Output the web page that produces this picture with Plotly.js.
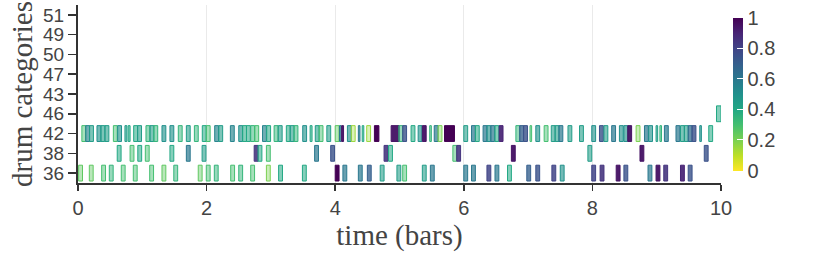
<!DOCTYPE html>
<html>
<head>
<meta charset="utf-8">
<script src="https://cdn.plot.ly/plotly-3.0.1.min.js"></script>
<style>html,body{margin:0;padding:0;background:#fff;}#chart{width:830px;height:261px;}</style>
</head>
<body>
<div id="chart"></div>
<script>
// drum categories (bottom to top)
const categories = ['36','38','42','46','43','47','50','49','51'];

// pitch 42 (closed hi-hat): start (bars), velocity, duration (bars)
const hh_t = [0.06,0.12,0.18,0.295,0.357,0.42,0.55,0.617,0.73,0.78,0.866,0.928,1.057,1.12,1.18,1.306,
  1.43,1.56,1.685,1.81,1.933,1.995,2.126,2.19,2.37,2.5,2.56,2.62,2.686,2.75,2.87,2.935,
  3.05,3.115,3.24,3.30,3.36,3.495,3.61,3.69,3.75,3.87,4.0,4.067,4.10,4.19,4.25,4.36,4.42,4.49,4.61,4.87,4.99,5.05,5.18,5.29,5.355,5.47,5.54,5.60,5.70,
  6.0,6.12,6.18,6.30,6.36,6.42,6.485,6.55,6.81,6.87,6.93,7.03,7.12,
  7.25,7.36,7.42,7.48,7.62,7.80,7.99,8.11,8.18,8.30,8.42,8.49,8.55,
  8.68,8.81,8.875,8.99,9.05,9.12,9.30,9.37,9.43,9.49,9.55,9.67,9.81];
const hh_v = [0.3,0.55,0.45,0.5,0.45,0.45,0.3,0.5,0.45,0.4,0.4,0.45,0.35,0.45,0.35,0.5,
  0.5,0.35,0.45,0.35,0.4,0.3,0.55,0.45,0.55,0.5,0.4,0.4,0.35,0.3,0.55,0.4,
  0.35,0.45,0.4,0.45,0.35,0.5,0.4,0.45,0.3,0.45,0.25,0.6,0.95,0.5,0.15,0.6,0.4,0.15,1.0,0.95,0.35,0.75,0.4,0.5,0.95,0.35,0.6,0.2,1.0,
  0.45,0.6,0.4,0.6,0.5,0.6,0.4,0.9,0.35,0.7,0.75,0.3,0.5,
  0.3,0.45,0.45,0.6,0.45,0.45,0.5,0.75,0.45,0.6,0.5,0.5,0.95,
  0.2,0.6,0.5,0.45,0.35,0.6,0.6,0.45,0.45,0.65,0.75,0.5,0.4];
const hh_d = [0.06,0.06,0.06,0.06,0.06,0.06,0.06,0.06,0.03,0.03,0.06,0.06,0.06,0.06,0.06,0.06,
  0.06,0.06,0.06,0.06,0.06,0.06,0.06,0.06,0.06,0.06,0.06,0.06,0.06,0.06,0.06,0.06,
  0.06,0.06,0.06,0.06,0.06,0.06,0.03,0.06,0.06,0.06,0.06,0.025,0.03,0.06,0.06,0.025,0.025,0.06,0.07,0.125,0.06,0.06,0.06,0.06,0.06,0.025,0.06,0.06,0.155,
  0.06,0.06,0.06,0.06,0.06,0.06,0.06,0.06,0.06,0.06,0.06,0.025,0.06,
  0.06,0.06,0.06,0.06,0.06,0.06,0.06,0.06,0.06,0.06,0.06,0.06,0.06,
  0.06,0.06,0.06,0.025,0.025,0.06,0.06,0.06,0.06,0.06,0.06,0.025,0.06];

// pitch 38 (snare)
const sn_t = [0.61,0.81,0.93,1.047,1.43,1.685,1.93,2.74,2.80,2.93,3.68,3.93,4.76,4.83,5.83,5.89,6.74,7.93,8.74,9.74];
const sn_v = [0.4,0.3,0.4,0.3,0.4,0.6,0.45,0.85,0.4,0.3,0.6,0.75,0.85,0.4,0.3,0.85,0.95,0.45,0.95,0.75];

// pitch 36 (kick)
const kk_t = [0.01,0.176,0.368,0.487,0.673,0.86,1.115,1.306,1.49,1.87,1.995,2.12,2.375,2.5,2.686,2.93,3.12,3.49,
  4.0,4.12,4.36,4.50,4.70,4.96,5.05,5.355,5.48,6.0,6.12,6.36,6.485,6.68,6.98,7.12,7.37,7.50,7.99,8.12,8.37,8.49,8.865,8.99,9.11,9.37,9.49];
const kk_v = [0.25,0.25,0.3,0.35,0.3,0.3,0.3,0.25,0.35,0.25,0.3,0.35,0.3,0.35,0.3,0.2,0.4,0.4,
  1.0,0.6,0.6,0.7,0.45,0.45,0.3,0.45,0.6,0.6,0.6,0.8,0.6,0.4,0.7,0.75,0.8,0.5,0.8,0.85,0.95,0.75,0.6,0.95,0.85,0.9,0.75];

// pitch 46 (open hi-hat)
const oh_t = [9.93];
const oh_v = [0.4];
const oh_d = [0.07];

const stepDur = 0.06;

const viridisR = [[0,'#fde725'],[0.1,'#bddf26'],[0.2,'#7ad151'],[0.3,'#44bf70'],[0.4,'#22a884'],[0.5,'#21918c'],[0.6,'#2a788e'],[0.7,'#355f8d'],[0.8,'#414487'],[0.9,'#482475'],[1,'#440154']];
function hexA(h,a){const r=parseInt(h.slice(1,3),16),g=parseInt(h.slice(3,5),16),b=parseInt(h.slice(5,7),16);return 'rgba('+r+','+g+','+b+','+a.toFixed(3)+')';}
// fill gets more opaque with higher velocity
const viridisRA = viridisR.map(s=>[s[0],hexA(s[1],0.25+0.75*s[0])]);

let X=[],B=[],Y=[],V=[];
function add(ts,vs,ds,cat){ts.forEach((t,i)=>{B.push(t);X.push(ds?ds[i]:stepDur);Y.push(cat);V.push(vs[i]);});}
add(kk_t,kk_v,null,'36');
add(sn_t,sn_v,null,'38');
add(hh_t,hh_v,hh_d,'42');
add(oh_t,oh_v,oh_d,'46');

const notes = {
  type:'bar', orientation:'h', x:X, base:B, y:Y, width:0.8,
  marker:{color:V, colorscale:viridisRA, cmin:0, cmax:1, showscale:false,
    line:{color:V, colorscale:viridisR, cmin:0, cmax:1, width:1}},
  hoverinfo:'skip', showlegend:false
};
const cbar = {
  type:'scatter', mode:'markers', x:[0], y:['36'],
  marker:{color:[0], colorscale:viridisR, cmin:0, cmax:1, opacity:0, size:1, showscale:true,
    colorbar:{x:1, xanchor:'left', xpad:12, y:0.5, len:0.862, ypad:0, thickness:10, outlinewidth:0,
      ticks:'inside', ticklen:6, tickcolor:'#fff', tickvals:[0,0.2,0.4,0.6,0.8,1], ticktext:['0','0.2','0.4','0.6','0.8','1'],
      tickfont:{family:'Liberation Sans, Arial, sans-serif', size:20, color:'#444'}}},
  hoverinfo:'skip', showlegend:false
};

const layout = {
  width:830, height:261,
  margin:{l:78, r:109, t:5, b:78},
  paper_bgcolor:'#fff', plot_bgcolor:'#fff',
  barmode:'overlay', showlegend:false,
  xaxis:{range:[0,10], dtick:2, tick0:0, showgrid:true, gridcolor:'#eaeaea', zeroline:false,
    showline:true, linecolor:'#333', linewidth:2, ticks:'outside', ticklen:6, tickcolor:'#333', tickwidth:1.5,
    tickfont:{family:'Liberation Sans, Arial, sans-serif', size:20, color:'#444'},
    title:{text:'time (bars)', font:{family:'Liberation Serif, Times New Roman, serif', size:29, color:'#444'}, standoff:4}},
  yaxis:{type:'category', categoryorder:'array', categoryarray:categories, range:[-0.5,8.5], showgrid:false, zeroline:false,
    tickmode:'array', tickvals:categories, ticktext:categories,
    showline:true, linecolor:'#333', linewidth:2, ticks:'outside', ticklen:8, tickcolor:'#333', tickwidth:1.5,
    tickfont:{family:'Liberation Sans, Arial, sans-serif', size:19, color:'#444'},
    title:{text:'drum categories', font:{family:'Liberation Serif, Times New Roman, serif', size:29, color:'#444'}, standoff:2}}
};
Plotly.newPlot('chart',[notes,cbar],layout,{displayModeBar:false, staticPlot:true});
</script>
</body>
</html>
